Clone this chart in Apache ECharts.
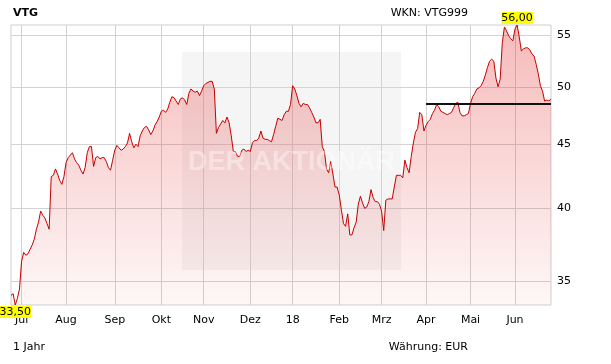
<!DOCTYPE html>
<html>
<head>
<meta charset="utf-8">
<script src="https://cdn.jsdelivr.net/npm/echarts@6/dist/echarts.min.js"></script>
<style>
html,body{margin:0;padding:0;background:#fff;}
#c{width:611px;height:364px;}
</style>
</head>
<body>
<div id="c"></div>
<script>
// Daily closing prices (trading days)
const prices = [
34.1,34.2,33.5,33.9,34.5,36.3,36.9,36.7,36.8,37.1,
37.4,37.8,38.5,39.0,39.8,39.5,39.3,38.9,38.5,42.4,
42.5,43.0,42.6,42.1,41.8,42.4,43.5,43.9,44.1,44.3,
43.8,43.5,43.3,42.9,42.6,43.1,44.3,44.8,44.8,43.2,
43.9,44.0,43.8,43.9,43.9,43.6,43.1,42.9,43.7,44.5,
44.9,44.7,44.5,44.6,44.8,45.1,45.9,45.2,44.7,45.0,
44.8,45.7,46.1,46.4,46.5,46.2,45.8,46.1,46.6,46.9,
47.3,47.8,47.9,47.7,48.0,48.6,49.1,49.0,48.7,48.4,
48.9,49.0,48.8,48.4,49.4,49.8,49.6,49.5,49.6,49.2,
49.6,50.1,50.3,50.4,50.5,50.5,49.8,45.9,46.4,46.7,
47.0,46.8,47.3,46.8,45.7,44.4,44.4,44.0,44.0,44.5,
44.6,44.4,44.5,44.4,45.1,45.3,45.3,45.5,46.1,45.5,
45.4,45.4,45.3,45.2,45.8,46.5,47.2,47.1,47.0,47.5,
47.8,47.8,48.4,50.1,49.8,49.2,48.5,48.2,48.5,48.4,
48.4,48.1,47.7,47.3,46.8,46.8,47.1,44.8,44.4,43.0,
42.7,43.6,42.6,41.6,41.6,41.0,39.9,38.9,38.7,39.6,
38.1,38.1,38.6,39.0,40.3,40.9,40.4,40.0,40.1,40.5,
41.4,40.8,40.5,40.5,40.3,39.8,38.4,40.6,40.7,40.7,
40.7,41.6,42.5,42.5,42.5,42.3,43.7,43.1,42.7,44.0,
45.1,46.0,46.3,47.7,47.5,46.1,46.6,46.9,47.1,47.6,
47.9,48.4,48.2,47.8,47.7,47.6,47.5,47.6,47.7,48.1,
48.5,48.6,47.7,47.4,47.4,47.5,47.6,48.5,49.1,49.4,
49.8,49.9,50.1,50.5,51.1,51.8,52.4,52.6,52.4,50.8,
50.0,50.7,54.2,55.8,55.4,54.9,54.6,54.4,55.6,56.0,
54.8,53.4,53.6,53.7,53.7,53.5,53.1,52.9,52.1,51.2,
50.1,49.6,48.7,48.8,48.7,48.9
];
// Trading-day index where each month begins, and its label
const monthStart = [5, 26, 49, 71, 91, 113, 133, 155, 175, 196, 217, 238];
const monthLabels = ['Jul','Aug','Sep','Okt','Nov','Dez','18','Feb','Mrz','Apr','Mai','Jun'];
// Y axis tick labels
const yTicks = [35, 40, 45, 50, 55];
// Horizontal resistance line: level and the day index it starts at
const levelValue = 48.5;
const levelStart = 196;

const categories = prices.map((_, i) => String(i));
const FONT = 'DejaVu Sans';
const fmt = v => v.toFixed(2).replace('.', ',');

const chart = echarts.init(document.getElementById('c'), null, {renderer: 'canvas'});
chart.setOption({
  animation: false,
  backgroundColor: '#fff',
  textStyle: {fontFamily: FONT},
  title: [
    {text: 'VTG', left: 13, top: 7, padding: 0,
     textStyle: {fontFamily: FONT, fontSize: 11, fontWeight: 'bold', color: '#000', lineHeight: 13}},
    {text: 'WKN: VTG999', right: 143, top: 7, padding: 0,
     textStyle: {fontFamily: FONT, fontSize: 11, fontWeight: 'normal', color: '#000', lineHeight: 13}},
    {text: '1 Jahr', left: 13, top: 341, padding: 0,
     textStyle: {fontFamily: FONT, fontSize: 11, fontWeight: 'normal', color: '#000', lineHeight: 13}},
    {text: 'Währung: EUR', right: 143, top: 341, padding: 0,
     textStyle: {fontFamily: FONT, fontSize: 11, fontWeight: 'normal', color: '#000', lineHeight: 13}}
  ],
  graphic: [
    {type: 'rect', left: 182, top: 52, z: 0, silent: true,
     shape: {width: 219, height: 218},
     style: {fill: 'rgba(225,225,225,0.35)'}},
    {type: 'text', left: 188, top: 149, z: 100, silent: true,
     style: {text: 'DER AKTIONÄR', fill: 'rgba(255,255,255,0.38)',
             font: 'bold 27px "Liberation Sans"'}}
  ],
  grid: {left: 11, right: 60, top: 25, bottom: 59, show: true,
         borderColor: '#cfcfcf', borderWidth: 1, backgroundColor: 'transparent'},
  xAxis: {
    type: 'category', data: categories, boundaryGap: false,
    axisLine: {show: false}, axisTick: {show: false},
    axisLabel: {
      interval: (i) => monthStart.includes(i),
      formatter: (v, i) => monthLabels[monthStart.indexOf(Number(v))],
      color: '#000', fontSize: 11, fontFamily: FONT, margin: 10
    },
    splitLine: {show: true, interval: (i) => monthStart.includes(i),
                lineStyle: {color: '#d3d3d3', width: 1}}
  },
  yAxis: {
    type: 'log', position: 'right',
    min: Math.min(...prices), max: Math.max(...prices),
    axisLine: {show: false},
    axisTick: {show: false, customValues: yTicks},
    axisLabel: {customValues: yTicks, color: '#000', fontSize: 11, fontFamily: FONT, margin: 6,
                formatter: v => String(v)},
    splitLine: {show: true, lineStyle: {color: '#d3d3d3', width: 1}}
  },
  series: [{
    type: 'line', data: prices, symbol: 'none', z: 2,
    lineStyle: {color: '#c40000', width: 1},
    areaStyle: {
      color: new echarts.graphic.LinearGradient(0, 0, 0, 1, [
        {offset: 0, color: 'rgba(228,40,40,0.46)'},
        {offset: 1, color: 'rgba(228,40,40,0.05)'}
      ])
    },
    markPoint: {
      symbol: 'circle', symbolSize: 0,
      data: [
        {type: 'max', label: {position: 'top', distance: 1}},
        {type: 'min', label: {position: 'bottom', distance: 1}}
      ],
      label: {
        show: true, formatter: p => fmt(p.value),
        color: '#000', fontSize: 11, fontFamily: FONT,
        backgroundColor: '#ffff00', padding: [1, 0, 0, 0], lineHeight: 11
      }
    },
    markLine: {
      symbol: 'none', silent: true, animation: false,
      label: {show: false},
      lineStyle: {color: '#111', width: 2, type: 'solid'},
      data: [[{coord: [String(levelStart), levelValue]},
              {coord: [String(prices.length - 1), levelValue]}]]
    }
  }]
});
</script>
</body>
</html>
